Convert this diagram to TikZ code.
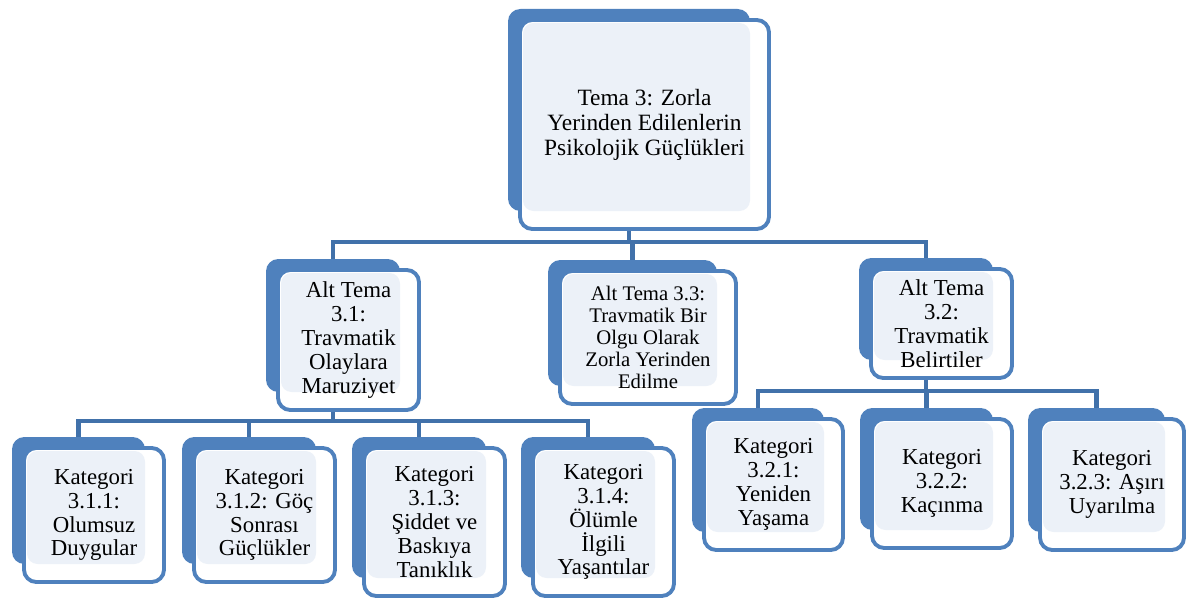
\documentclass[tikz,border=0pt]{standalone}
\usepackage{fontspec}
\setmainfont{Liberation Serif}
\usepackage{tikz}
\usetikzlibrary{calc}

\definecolor{mavi}{RGB}{79,129,189}
\definecolor{hat}{RGB}{65,113,170}
\definecolor{acik}{RGB}{236,241,248}

% [#1] ek stil, #2 ad, #3-#6 arka kutu (x1,y1,x2,y2), #7 metin
\newcommand{\kutu}[7][]{%
  \node[arka, minimum width={(#5-#3)*0.02cm}, minimum height={(#6-#4)*0.02cm}]
    (#2-arka) at ({(#3+#5)/2},{(#4+#6)/2}) {};
  \fill[white, rounded corners=7pt] (#3+12,#4+11) rectangle (#5+19,#6+18);
  \fill[acik, rounded corners=6pt] (#3+15,#4+14) rectangle (#5,#6);
  \node[on, minimum width={(#5-#3+7)*0.02cm}, minimum height={(#6-#4+7)*0.02cm}, #1]
    (#2) at ({(#3+#5)/2+15.5},{(#4+#6)/2+14.5}) {#7};
}

\begin{document}
\begin{tikzpicture}[x=0.02cm, y=-0.02cm,
  arka/.style={fill=mavi, rounded corners=7pt, inner sep=0pt},
  on/.style={draw=mavi, line width=2.2pt, rounded corners=7pt, inner sep=0pt,
    align=center, font=\fontsize{13}{13.6}\selectfont},
  baglanti/.style={draw=hat, line width=2.3pt}]
\useasboundingbox (0,0) rectangle (1190,598);

% kutular
\kutu[font=\fontsize{13.3}{14.2}\selectfont]{t3}{508}{9}{750}{211}{Tema 3: Zorla\\Yerinden Edilenlerin\\Psikolojik Güçlükleri}
\kutu{a31}{266}{259}{400}{392}{Alt Tema\\3.1:\\Travmatik\\Olaylara\\Maruziyet}
\kutu[font=\fontsize{11.8}{12.5}\selectfont]{a33}{548}{260}{717}{386}{Alt Tema 3.3:\\Travmatik Bir\\Olgu Olarak\\Zorla Yerinden\\Edilme}
\kutu{a32}{859}{258}{993}{360}{Alt Tema\\3.2:\\Travmatik\\Belirtiler}
\kutu{k311}{12}{437}{145}{564}{Kategori\\3.1.1:\\Olumsuz\\Duygular}
\kutu{k312}{182}{437}{316}{564}{Kategori\\3.1.2: Göç\\Sonrası\\Güçlükler}
\kutu{k313}{352}{437}{486}{578}{Kategori\\3.1.3:\\Şiddet ve\\Baskıya\\Tanıklık}
\kutu{k314}{521}{437}{655}{578}{Kategori\\3.1.4:\\Ölümle\\İlgili\\Yaşantılar}
\kutu{k321}{692}{408}{824}{532}{Kategori\\3.2.1:\\Yeniden\\Yaşama}
\kutu{k322}{860}{408}{993}{530}{Kategori\\3.2.2:\\Kaçınma}
\kutu{k323}{1028}{408}{1165}{532}{Kategori\\3.2.3: Aşırı\\Uyarılma}

% baglantilar
\coordinate (hat1) at (0,242);
\coordinate (hat2) at (0,421);
\coordinate (hat3) at (0,391);
\draw[baglanti] (t3-arka.south |- t3.south) -- (t3-arka.south |- hat1);
\draw[baglanti] (a31-arka.north) -- (a31-arka.north |- hat1) -- (a32-arka.north |- hat1) -- (a32-arka.north);
\draw[baglanti] (a33-arka.north) -- (a33-arka.north |- hat1);

\draw[baglanti] (a31-arka.south |- a31.south) -- (a31-arka.south |- hat2);
\draw[baglanti] (k311-arka.north) -- (k311-arka.north |- hat2) -- (k314-arka.north |- hat2) -- (k314-arka.north);
\foreach \k in {k312,k313}
  \draw[baglanti] (\k-arka.north) -- (\k-arka.north |- hat2);

\draw[baglanti] (a32-arka.south |- a32.south) -- (a32-arka.south |- hat3);
\draw[baglanti] (k321-arka.north) -- (k321-arka.north |- hat3) -- (k323-arka.north |- hat3) -- (k323-arka.north);
\draw[baglanti] (k322-arka.north) -- (k322-arka.north |- hat3);
\end{tikzpicture}
\end{document}
